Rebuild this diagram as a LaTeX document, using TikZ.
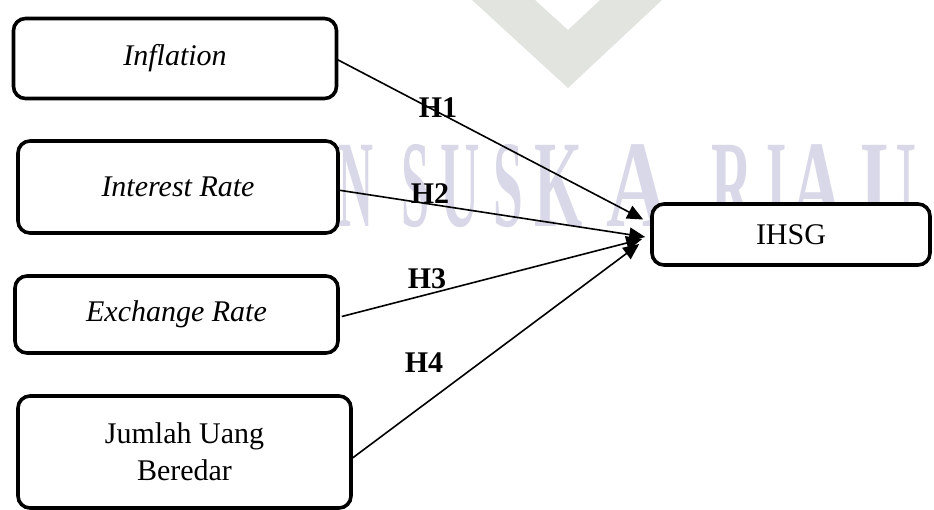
\documentclass[tikz,border=0pt]{standalone}
\usepackage{fontspec}
\setmainfont{Liberation Serif}
\newfontfamily\hfont{Liberation Serif}
\newfontfamily\wmfont{Liberation Serif}
\usetikzlibrary{arrows.meta,calc}
\definecolor{wmtext}{RGB}{216,216,232}
\definecolor{wmshape}{RGB}{225,228,223}
\tikzset{
  box/.style={draw=black, line width=3.6pt, rounded corners=12pt, fill=white,
    inner sep=0pt, align=center, font=\fontsize{30}{37}\selectfont},
  arr/.style={line width=1.6pt, -{Triangle[length=16pt,width=14pt]}},
  hlab/.style={font=\hfont\bfseries\fontsize{30}{30}\selectfont, inner sep=0pt},
  wm/.style={font=\wmfont\bfseries\fontsize{124}{124}\selectfont, text=wmtext, inner sep=0pt, anchor=base}
}
\begin{document}
\begin{tikzpicture}[x=1pt,y=-1pt]
\useasboundingbox (0,0) rectangle (934,509);
% watermark
\fill[wmshape] (472,0) -- (568,88) -- (662,0) -- (600,0) -- (568,30) -- (535,0) -- cycle;
\foreach \ch/\xx/\sc [count=\i] in {N/355.5/0.39, S/416/0.41, U/460/0.44, S/508/0.43, K/559/0.5, A/638/0.7, R/732.5/0.46, I/777/0.42, A/816.5/0.59, U/888.5/0.63}
  \node[wm] (wm\i) at (\xx,226) {\scalebox{\sc}[1]{\ch}};
% boxes
\node[box, minimum width=323pt, minimum height=80pt] (infl) at (175,58.5) {\textit{Inflation}};
\node[box, minimum width=320pt, minimum height=92pt] (inter) at (178,187) {\textit{Interest Rate}};
\node[box, minimum width=323pt, minimum height=77pt] (exch) at (176.5,314.5) {\textit{Exchange Rate}};
\node[box, minimum width=333pt, minimum height=112pt] (jum) at (184.5,452) {Jumlah Uang\\Beredar};
\node[box, minimum width=278pt, minimum height=61pt] (ihsg) at (791,234.5) {IHSG};
% arrows
\draw[arr] ($(infl.east)+(-3,0)$) -- ($(ihsg.west)+(-7,-15)$);
\draw[arr] ($(inter.east)+(-2,3)$) -- ($(ihsg.west)+(-5,2.5)$);
\draw[arr] ($(exch.east)+(2,2)$) -- ($(ihsg.west)+(-8,4.5)$);
\draw[arr] ($(jum.east)+(-3,8)$) -- ($(ihsg.west)+(-11,9.5)$);
% labels
\node[hlab] (h1) at (438,108) {H1};
\node[hlab] (h2) at (430,194) {H2};
\node[hlab] (h3) at (427,279) {H3};
\node[hlab] (h4) at (424,363) {H4};
\end{tikzpicture}
\end{document}
